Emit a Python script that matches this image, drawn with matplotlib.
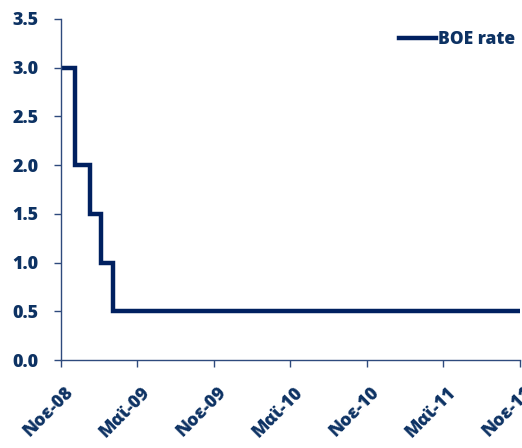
import matplotlib
matplotlib.use("Agg")
import matplotlib.pyplot as plt
import matplotlib.transforms as mtransforms
import pandas as pd

plt.rcParams['font.family'] = ['Open Sans', 'DejaVu Sans']

# BOE bank rate change dates and values
rate_dates = ["2008-11-01", "2008-12-04", "2009-01-08", "2009-02-05", "2009-03-05", "2011-11-01"]
rate_values = [3.0, 2.0, 1.5, 1.0, 0.5, 0.5]

tick_dates = ["2008-11-01", "2009-05-01", "2009-11-01", "2010-05-01",
              "2010-11-01", "2011-05-01", "2011-11-01"]
tick_labels = ["Νοε-08", "Μαϊ-09", "Νοε-09", "Μαϊ-10", "Νοε-10", "Μαϊ-11", "Νοε-11"]
y_ticks = [0.0, 0.5, 1.0, 1.5, 2.0, 2.5, 3.0, 3.5]

navy = "#002060"
text_col = "#0d3263"
spine_col = "#2e4a7d"

fig = plt.figure(figsize=(5.22, 4.48), dpi=100)
ax = fig.add_axes([0.117, 0.196, 0.879, 0.762])

x = pd.to_datetime(rate_dates)
ax.plot(x, rate_values, drawstyle="steps-post", color=navy, lw=3.2,
        solid_joinstyle="miter", label="BOE rate")

ax.set_xlim(pd.Timestamp(tick_dates[0]), pd.Timestamp(tick_dates[-1]))
ax.set_ylim(0, 3.5)
ax.set_yticks(y_ticks)
ax.set_yticklabels([f"{v:.1f}" for v in y_ticks])
ax.set_xticks(pd.to_datetime(tick_dates))
ax.set_xticklabels(tick_labels, rotation=45, ha="right", rotation_mode="anchor")

for s in ["top", "right"]:
    ax.spines[s].set_visible(False)
for s in ["left", "bottom"]:
    ax.spines[s].set_color(spine_col)
    ax.spines[s].set_linewidth(1.0)
ax.tick_params(axis="both", direction="out", length=5, width=1.0, color=spine_col,
               labelcolor=text_col)
ax.tick_params(axis="x", pad=12, labelsize=12.8)
ax.tick_params(axis="y", pad=11, labelsize=13)
shift = mtransforms.ScaledTranslation(3 / 72, 0, fig.dpi_scale_trans)
for lab in ax.get_xticklabels():
    lab.set_fontweight("heavy")
    lab.set_transform(lab.get_transform() + shift)
for lab in ax.get_yticklabels():
    lab.set_fontweight("heavy")

leg = ax.legend(loc="upper right", frameon=False, handlelength=2.1, handletextpad=0.15,
                prop={"weight": "heavy", "size": 12.5}, bbox_to_anchor=(1.005, 0.985),
                borderaxespad=0.0)
for t in leg.get_texts():
    t.set_color(text_col)

fig.savefig("out.png", dpi=100)
